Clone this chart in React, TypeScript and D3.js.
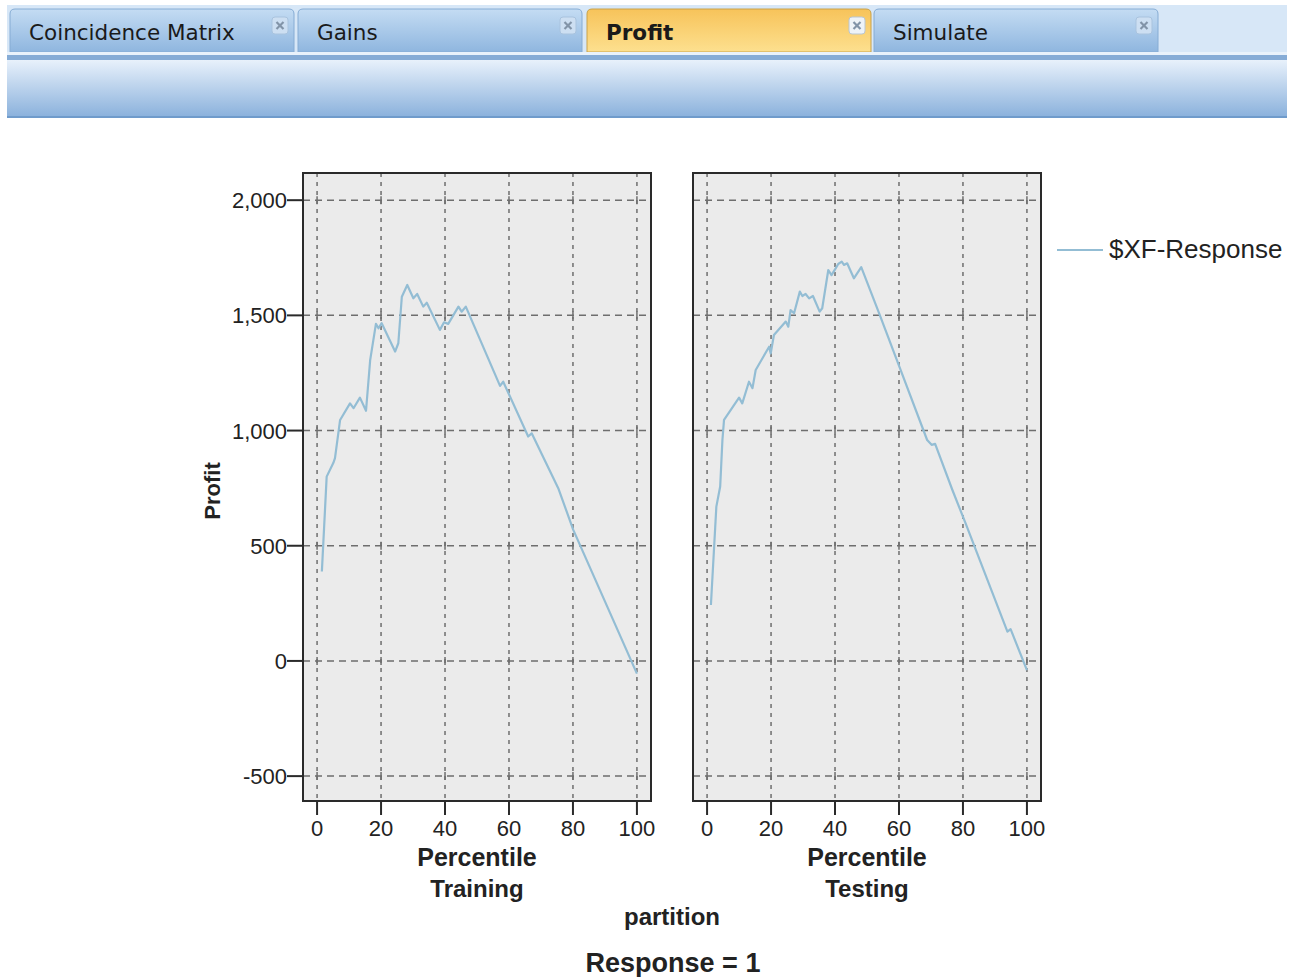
import React from 'react';
import * as d3 from 'd3';

// tab strip
const tabNames = ['Coincidence Matrix', 'Gains', 'Profit', 'Simulate'];
const activeTab = 'Profit';

// panels (partition) and axis ticks
const partitions = ['Training', 'Testing'];
const yTicks = [-500, 0, 500, 1000, 1500, 2000];
const xTicks = [0, 20, 40, 60, 80, 100];
const seriesName = '$XF-Response';

// Training: percentile / profit
const trainPct = [1.5, 3.0, 5.1, 5.6, 7.2, 10.3, 11.4, 13.4, 15.3, 16.6, 18.4, 19.2, 20.2, 24.4, 25.4, 26.5, 28.2, 30.1, 31.3, 33.2, 34.3, 38.4, 39.7, 41.0, 44.2, 45.2, 46.5, 57.2, 58.2, 66.0, 67.1, 75.4, 80.1, 100];
const trainProfit = [388, 800, 860, 880, 1046, 1118, 1097, 1143, 1086, 1306, 1463, 1444, 1466, 1343, 1379, 1581, 1632, 1574, 1593, 1538, 1555, 1437, 1470, 1463, 1538, 1516, 1538, 1194, 1212, 974, 988, 750, 569, -55];

// Testing: percentile / profit
const testPct = [1.2, 2.9, 4.1, 4.8, 5.3, 10.0, 11.0, 13.1, 14.2, 15.2, 19.4, 19.9, 20.9, 24.6, 25.4, 26.1, 27.2, 29.0, 29.8, 30.8, 31.9, 33.1, 35.2, 36.0, 37.9, 38.9, 40.2, 41.0, 42.1, 42.8, 43.8, 45.9, 48.2, 53.8, 60.5, 68.8, 70.2, 71.3, 76.7, 80.8, 93.9, 94.9, 100];
const testProfit = [243, 670, 757, 959, 1046, 1143, 1118, 1212, 1184, 1263, 1364, 1335, 1415, 1473, 1451, 1523, 1509, 1603, 1584, 1593, 1574, 1584, 1516, 1531, 1697, 1675, 1704, 1723, 1733, 1719, 1726, 1661, 1709, 1509, 1263, 959, 938, 942, 742, 598, 127, 138, -40];

const W = 1289;
const H = 977;
const LINE = '#93bdd4';
const FONT = '"Liberation Sans", Arial, sans-serif';
const fmt = (v: number) => d3.format(',')(v).replace('−', '-');

function Tabs() {
  const tabX = [10, 298, 587, 874];
  const tabW = 284;
  return (
    <g>
      <defs>
        <linearGradient id="tabBlue" x1="0" y1="0" x2="0" y2="1">
          <stop offset="0" stopColor="#c4dcf3" />
          <stop offset="1" stopColor="#8fb6df" />
        </linearGradient>
        <linearGradient id="tabOrange" x1="0" y1="0" x2="0" y2="1">
          <stop offset="0" stopColor="#f7c35a" />
          <stop offset="1" stopColor="#fde08f" />
        </linearGradient>
        <linearGradient id="band" x1="0" y1="0" x2="0" y2="1">
          <stop offset="0" stopColor="#e8f1fb" />
          <stop offset="1" stopColor="#8ab1dc" />
        </linearGradient>
      </defs>
      <rect x={7} y={5} width={1280} height={52} fill="#d7e7f7" />
      {tabNames.map((t, i) => {
        const active = t === activeTab;
        const cx = tabX[i] + tabW - 14;
        return (
          <g key={t}>
            <path
              d={`M${tabX[i]},52 L${tabX[i]},14 Q${tabX[i]},9 ${tabX[i] + 5},9 L${tabX[i] + tabW - 5},9 Q${tabX[i] + tabW},9 ${tabX[i] + tabW},14 L${tabX[i] + tabW},52 Z`}
              fill={active ? 'url(#tabOrange)' : 'url(#tabBlue)'}
              stroke={active ? '#c9a24a' : '#86acd4'}
              strokeWidth={1}
            />
            <text
              x={tabX[i] + 19}
              y={40}
              fontFamily='"DejaVu Sans", Verdana, sans-serif'
              fontSize={21.5}
              fontWeight={active ? 'bold' : 'normal'}
              fill="#1a1a1a"
            >
              {t}
            </text>
            <rect x={cx - 8} y={17} width={16} height={17} rx={3} fill={active ? '#eef3f8' : '#cddff2'} stroke={active ? '#b9c6d3' : '#a9c3de'} />
            <line x1={cx - 3.5} x2={cx + 3.5} y1={22} y2={29} stroke="#8294a8" strokeWidth={2.2} />
            <line x1={cx + 3.5} x2={cx - 3.5} y1={22} y2={29} stroke="#8294a8" strokeWidth={2.2} />
          </g>
        );
      })}
      <rect x={7} y={52} width={1280} height={3} fill="#e9f2fb" />
      <rect x={7} y={55} width={1280} height={5} fill="#86acd6" />
      <rect x={7} y={60} width={1280} height={57} fill="url(#band)" />
      <rect x={7} y={116} width={1280} height={2} fill="#6f9bcb" />
    </g>
  );
}

function Panel({ x0, pct, profit, showY }: { x0: number; pct: number[]; profit: number[]; showY: boolean }) {
  const x1 = x0 + 348;
  const y0 = 173;
  const y1 = 801;
  const x = d3.scaleLinear().domain([-4.4, 104.4]).range([x0, x1]);
  const y = d3.scaleLinear().domain([-608, 2118]).range([y1, y0]);
  const pts: [number, number][] = pct.map((p, i) => [p, profit[i]]);
  const line = d3
    .line<[number, number]>()
    .x((d) => x(d[0]))
    .y((d) => y(d[1]));
  return (
    <g>
      <rect x={x0} y={y0} width={x1 - x0} height={y1 - y0} fill="#ebebeb" />
      {yTicks.map((t) => (
        <line key={'h' + t} x1={x0} x2={x1} y1={y(t)} y2={y(t)} stroke="#6e6e6e" strokeWidth={1.5} strokeDasharray="7,5" />
      ))}
      {xTicks.map((t) => (
        <line key={'v' + t} x1={x(t)} x2={x(t)} y1={y0} y2={y1} stroke="#6e6e6e" strokeWidth={1.5} strokeDasharray="4,5" />
      ))}
      {xTicks.map((tx) =>
        yTicks.map((ty) => (
          <line key={'c' + tx + '_' + ty} x1={x(tx)} x2={x(tx)} y1={y(ty) - 4} y2={y(ty) + 4} stroke="#6e6e6e" strokeWidth={1.5} />
        ))
      )}
      <path d={line(pts) || ''} fill="none" stroke={LINE} strokeWidth={2.2} strokeLinejoin="round" />
      <rect x={x0} y={y0} width={x1 - x0} height={y1 - y0} fill="none" stroke="#2a2a2a" strokeWidth={2} />
      {xTicks.map((t) => (
        <g key={'xt' + t}>
          <line x1={x(t)} x2={x(t)} y1={y1} y2={y1 + 14} stroke="#2a2a2a" strokeWidth={2} />
          <text x={x(t)} y={836} textAnchor="middle" fontFamily={FONT} fontSize={22} fill="#222">
            {t}
          </text>
        </g>
      ))}
      {showY &&
        yTicks.map((t) => (
          <g key={'yt' + t}>
            <line x1={x0 - 16} x2={x0} y1={y(t)} y2={y(t)} stroke="#2a2a2a" strokeWidth={2} />
            <text x={x0 - 16} y={y(t) + 8} textAnchor="end" fontFamily={FONT} fontSize={22} fill="#222">
              {fmt(t)}
            </text>
          </g>
        ))}
    </g>
  );
}

export default function App() {
  const panelX = [303, 693];
  const allPct = [trainPct, testPct];
  const allProfit = [trainProfit, testProfit];
  return (
    <svg width={W} height={H} style={{ position: 'absolute', left: 0, top: 0, display: 'block', background: '#fff' }}>
      <Tabs />
      {partitions.map((p, i) => (
        <g key={p}>
          <Panel x0={panelX[i]} pct={allPct[i]} profit={allProfit[i]} showY={i === 0} />
          <text x={panelX[i] + 174} y={866} textAnchor="middle" fontFamily={FONT} fontSize={25} fontWeight="bold" fill="#222">
            Percentile
          </text>
          <text x={panelX[i] + 174} y={897} textAnchor="middle" fontFamily={FONT} fontSize={24} fontWeight="bold" fill="#222">
            {p}
          </text>
        </g>
      ))}
      <text transform="translate(220,491) rotate(-90)" textAnchor="middle" fontFamily={FONT} fontSize={22} fontWeight="bold" fill="#222">
        Profit
      </text>
      <text x={672} y={925} textAnchor="middle" fontFamily={FONT} fontSize={24} fontWeight="bold" fill="#222">
        partition
      </text>
      <text x={673} y={972} textAnchor="middle" fontFamily={FONT} fontSize={27} fontWeight="bold" fill="#222">
        Response = 1
      </text>
      <line x1={1057} x2={1103} y1={250} y2={250} stroke={LINE} strokeWidth={2} />
      <text x={1109} y={258} fontFamily={FONT} fontSize={26} fill="#222">
        {seriesName}
      </text>
    </svg>
  );
}
